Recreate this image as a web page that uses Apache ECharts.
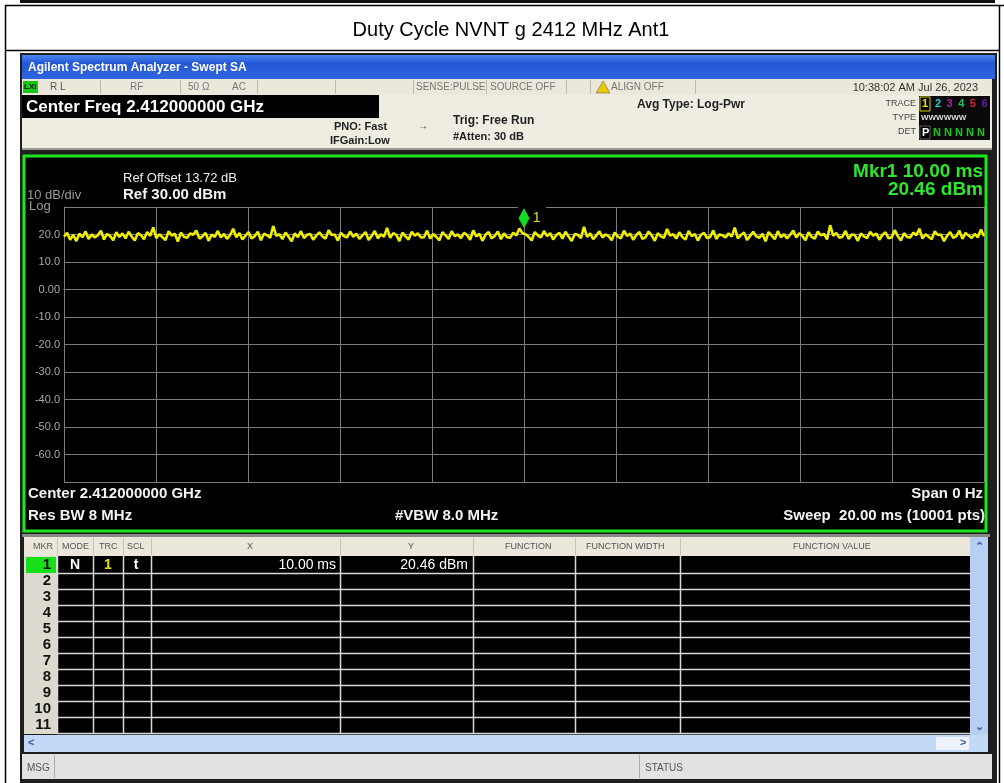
<!DOCTYPE html>
<html>
<head>
<meta charset="utf-8">
<script src="https://cdn.jsdelivr.net/npm/echarts@6/dist/echarts.min.js"></script>
<style>
  html, body { margin: 0; padding: 0; background: #fff; }
  #main { width: 1004px; height: 783px; }
</style>
</head>
<body>
<div id="main"></div>
<script>
// ---- data ----
const chartTitle = 'Duty Cycle NVNT g 2412 MHz Ant1';
const sweepMs = 20;                 // span 0 Hz, sweep 20.00 ms
const yTicks = [20, 10, 0, -10, -20, -30, -40, -50, -60];
const markerX = 10.00;              // ms
const markerY = 20.46;              // dBm
// trace level (dBm), sampled along the sweep
const traceDbm = [
    19.2, 20.6, 18.1, 19.9, 17.6, 20.3, 19.0, 21.1, 18.4, 20.0, 18.9, 19.7, 21.4, 18.2, 20.2, 19.4, 17.9, 20.8, 19.1, 20.4,
    18.6, 21.0, 19.3, 17.8, 20.5, 19.8, 18.3, 20.9, 19.5, 22.6, 18.7, 20.1, 19.0, 18.0, 21.2, 19.6, 20.3, 17.4, 20.7, 19.2,
    18.8, 20.4, 19.9, 21.5, 18.5, 19.3, 20.6, 17.7, 20.0, 19.1, 21.3, 18.9, 20.2, 18.4, 19.8, 22.1, 19.0, 20.5, 18.2, 19.6,
    20.9, 18.6, 19.4, 21.0, 17.9, 20.3, 19.7, 18.8, 23.1, 19.5, 20.1, 18.3, 20.7, 19.2, 17.5, 20.4, 19.0, 21.2, 18.7, 19.9,
    20.2, 18.1, 19.6, 20.8, 19.3, 18.5, 21.6, 19.8, 20.0, 17.8, 20.6, 19.4, 18.9, 21.1, 19.1, 20.3, 18.4, 19.7, 20.9, 18.0,
    19.5, 21.3, 18.6, 20.1, 19.2, 22.4, 18.8, 20.5, 19.9, 17.6, 20.7, 19.3, 18.2, 21.0, 19.6, 20.4, 18.9, 19.0, 21.4, 18.5,
    20.2, 19.1, 17.9, 20.8, 19.7, 18.4, 21.2, 19.4, 20.0, 18.7, 20.6, 19.8, 18.1, 21.5, 19.3, 20.3, 17.7, 19.9, 20.9, 18.6,
    19.5, 21.1, 18.3, 20.4, 19.0, 18.8, 20.7, 19.6, 22.2, 20.5, 20.1, 19.2, 17.8, 20.9, 19.7, 18.9, 21.3, 19.4, 20.5, 18.2,
    19.8, 20.6, 18.5, 21.0, 19.3, 17.6, 20.2, 19.9, 18.7, 22.8, 19.1, 20.4, 18.3, 19.6, 21.2, 18.9, 20.0, 19.4, 17.9, 20.7,
    19.2, 18.6, 21.4, 19.5, 20.3, 18.1, 19.8, 20.9, 18.4, 19.0, 21.1, 19.7, 17.7, 20.5, 19.3, 18.8, 22.0, 19.6, 20.1, 18.5,
    20.8, 19.0, 18.2, 21.3, 19.4, 20.2, 17.8, 19.9, 20.6, 18.7, 19.1, 21.5, 18.4, 20.0, 19.7, 18.9, 20.4, 19.2, 22.5, 18.6,
    19.8, 20.7, 18.0, 19.5, 21.0, 19.3, 18.8, 20.3, 17.5, 20.9, 19.6, 18.3, 21.2, 19.0, 20.1, 18.6, 19.9, 21.4, 18.9, 20.5,
    19.4, 17.9, 20.8, 19.1, 18.5, 21.1, 19.7, 20.2, 18.2, 23.4, 19.5, 20.6, 18.8, 19.2, 21.3, 18.4, 20.0, 19.8, 17.7, 20.4,
    19.3, 18.7, 21.0, 19.6, 20.3, 18.1, 19.9, 20.8, 18.6, 19.0, 21.6, 19.4, 17.8, 20.5, 19.1, 18.9, 20.7, 19.7, 22.1, 18.5,
    20.1, 19.2, 18.3, 21.2, 19.8, 20.0, 17.6, 19.5, 20.9, 18.8, 19.3, 21.4, 18.4, 20.6, 19.6, 18.7, 20.2, 19.0, 21.8, 19.4
];
// marker table contents
const mkrNumbers = ['1', '2', '3', '4', '5', '6', '7', '8', '9', '10', '11'];
const mkrRow1 = {mode: 'N', trc: '1', scl: 't', x: '10.00 ms', y: '20.46 dBm'};
const tableHeaders = ['MKR', 'MODE', 'TRC', 'SCL', 'X', 'Y', 'FUNCTION', 'FUNCTION WIDTH', 'FUNCTION VALUE'];

// ---- small helpers for the analyzer chrome ----
const SANS = '"Liberation Sans", Arial, sans-serif';
function rect(x, y, w, h, fill, z = 1, extra = {}) {
    return {type: 'rect', silent: true, z: z, shape: {x: x, y: y, width: w, height: h}, style: Object.assign({fill: fill}, extra)};
}
function line(x1, y1, x2, y2, stroke, w = 1, z = 2) {
    return {type: 'line', silent: true, z: z, shape: {x1: x1, y1: y1, x2: x2, y2: y2}, style: {stroke: stroke, lineWidth: w}};
}
function txt(x, y, text, font, fill, align = 'left', z = 10) {
    return {
        type: 'text', silent: true, z: z, x: x, y: y,
        style: {text: text, font: font, fill: fill, align: align, verticalAlign: 'middle',
                textAlign: align, textVerticalAlign: 'middle'}
    };
}

let g = [];
// page table frame and title
g.push(rect(20, 0, 975, 3, '#111'));
g.push(line(5, 5.5, 1004, 5.5, '#000', 1.5));
g.push(line(5.5, 5, 5.5, 783, '#000', 1.5));
g.push(line(999.5, 5, 999.5, 783, '#000', 1.5));
g.push(line(5, 50.5, 1000, 50.5, '#000', 1.5));
g.push(txt(511, 30, chartTitle, '20px ' + SANS, '#000', 'center'));

// screenshot frame
g.push(rect(20, 53, 977, 730, '#1e1e1e'));
g.push(rect(22, 55, 973, 24, '#2a5fd8', 1, {
    fill: new echarts.graphic.LinearGradient(0, 0, 0, 1, [
        {offset: 0, color: '#4a86ee'}, {offset: 0.35, color: '#2457d6'}, {offset: 1, color: '#2f66de'}])
}));
g.push(txt(28, 68, 'Agilent Spectrum Analyzer - Swept SA', 'bold 12px ' + SANS, '#fff'));

// status strip
g.push(rect(22, 79, 970, 16, '#ebe7da'));
[100, 180, 257, 335, 413, 486, 566, 590, 695].forEach(x => g.push(line(x + 0.5, 80, x + 0.5, 94, '#bdb8a8')));
g.push(rect(23, 81, 15, 12, '#18c818'));
g.push(txt(24, 87, 'LXI', 'bold 8px ' + SANS, '#111'));
g.push(txt(50, 87, 'R L', '10px ' + SANS, '#555'));
g.push(txt(130, 87, 'RF', '10px ' + SANS, '#777'));
g.push(txt(188, 87, '50 Ω', '10px ' + SANS, '#777'));
g.push(txt(232, 87, 'AC', '10px ' + SANS, '#777'));
g.push(txt(416, 87, 'SENSE:PULSE', '10px ' + SANS, '#777'));
g.push(txt(490, 87, 'SOURCE OFF', '10px ' + SANS, '#777'));
g.push({type: 'polygon', silent: true, z: 5, shape: {points: [[596, 93], [603, 81], [610, 93]]}, style: {fill: '#e8c800', stroke: '#555', lineWidth: 0.5}});
g.push(txt(611, 87, 'ALIGN OFF', '10px ' + SANS, '#777'));
g.push(txt(978, 88, '10:38:02 AM Jul 26, 2023', '11px ' + SANS, '#333', 'right'));

// header area
g.push(rect(22, 95, 970, 55, '#efece2'));
g.push(rect(22, 95, 357, 23, '#000'));
g.push(txt(26, 107, 'Center Freq 2.412000000 GHz', 'bold 17px ' + SANS, '#fff'));
g.push(txt(334, 127, 'PNO: Fast', 'bold 11px ' + SANS, '#222'));
g.push(txt(330, 141, 'IFGain:Low', 'bold 11px ' + SANS, '#222'));
g.push(txt(418, 126, '→', 'bold 10px ' + SANS, '#222'));
g.push(txt(453, 121, 'Trig: Free Run', 'bold 12px ' + SANS, '#222'));
g.push(txt(453, 137, '#Atten: 30 dB', 'bold 11px ' + SANS, '#222'));
g.push(txt(637, 105, 'Avg Type: Log-Pwr', 'bold 12px ' + SANS, '#222'));
g.push(txt(916, 104, 'TRACE', '9px ' + SANS, '#444', 'right'));
g.push(txt(916, 118, 'TYPE', '9px ' + SANS, '#444', 'right'));
g.push(txt(916, 132, 'DET', '9px ' + SANS, '#444', 'right'));
g.push(rect(919, 96, 71, 44, '#0a0a0a'));
g.push(rect(920, 97, 10, 14, '#000', 5, {stroke: '#d8d000', lineWidth: 1}));
g.push(txt(922, 104, '1', 'bold 11px ' + SANS, '#e8e000'));
[['2', '#20c8c8'], ['3', '#b020a0'], ['4', '#20c060'], ['5', '#e02040'], ['6', '#6020a0']].forEach((d, i) =>
    g.push(txt(935 + i * 11.6, 104, d[0], 'bold 11px ' + SANS, d[1])));
g.push(txt(921, 118, 'WWWWWW', 'bold 8px ' + SANS, '#ddd'));
g.push(rect(920, 126, 10, 13, '#fff', 5, {fill: '#000', stroke: '#aaa', lineWidth: 0.5}));
g.push(txt(922, 133, 'P', 'bold 11px ' + SANS, '#fff'));
g.push(txt(933, 133, 'N N N N N', 'bold 11px ' + SANS, '#18c818'));
g.push(rect(22, 148, 970, 2, '#9a9a90'));

// plot panel
g.push(rect(24, 156, 962, 375, '#000', 1, {stroke: '#1ee61e', lineWidth: 3}));
g.push(txt(123, 178, 'Ref Offset 13.72 dB', '13px ' + SANS, '#eee'));
g.push(txt(123, 195, 'Ref 30.00 dBm', 'bold 15px ' + SANS, '#f2f2f2'));
g.push(txt(27, 195, '10 dB/div', '13px ' + SANS, '#9a9a9a'));
g.push(txt(29, 206, 'Log', '13px ' + SANS, '#9a9a9a'));
g.push(txt(983, 172, 'Mkr1 10.00 ms', 'bold 19px ' + SANS, '#2ee62e', 'right'));
g.push(txt(983, 190, '20.46 dBm', 'bold 19px ' + SANS, '#2ee62e', 'right'));
g.push(txt(28, 494, 'Center 2.412000000 GHz', 'bold 15px ' + SANS, '#f2f2f2'));
g.push(txt(28, 516, 'Res BW 8 MHz', 'bold 15px ' + SANS, '#f2f2f2'));
g.push(txt(395, 516, '#VBW 8.0 MHz', 'bold 15px ' + SANS, '#f2f2f2'));
g.push(txt(983, 494, 'Span 0 Hz', 'bold 15px ' + SANS, '#f2f2f2', 'right'));
g.push(txt(985, 516, 'Sweep  20.00 ms (10001 pts)', 'bold 15px ' + SANS, '#f2f2f2', 'right'));
g.push(rect(518, 205, 28, 4, '#000', 4));   // top gridline gap under the marker

// marker table
g.push(rect(22, 534, 968, 3, '#888'));
g.push(rect(24, 537, 946, 19, '#ebe7da'));
const colX = [57, 93, 123, 151, 340, 473, 575, 680];
const headX = [33, 62, 99, 127, 247, 408, 505, 586, 793];
tableHeaders.forEach((h, i) => g.push(txt(headX[i], 547, h, '9px ' + SANS, '#555')));
colX.forEach(x => g.push(line(x + 0.5, 538, x + 0.5, 555, '#c8c3b2')));
g.push(rect(24, 556, 33, 178, '#dcd9cf'));
g.push(rect(57, 556, 913, 178, '#000'));
g.push(rect(26, 557, 30, 16, '#18e018'));
mkrNumbers.forEach((n, i) => {
    g.push(txt(51, 565 + i * 16, n, 'bold 15px ' + SANS, '#111', 'right'));
    g.push(line(57, 573 + i * 16 + 0.5, 970, 573 + i * 16 + 0.5, '#d8d8d8', 1.5, 3));
});
colX.forEach(x => g.push(line(x + 0.5, 556, x + 0.5, 734, '#d8d8d8', 1.5, 3)));
g.push(txt(75, 565, mkrRow1.mode, 'bold 14px ' + SANS, '#fff', 'center'));
g.push(txt(108, 565, mkrRow1.trc, 'bold 14px ' + SANS, '#e8e000', 'center'));
g.push(txt(136, 565, mkrRow1.scl, 'bold 14px ' + SANS, '#fff', 'center'));
g.push(txt(336, 565, mkrRow1.x, '14px ' + SANS, '#fff', 'right'));
g.push(txt(468, 565, mkrRow1.y, '14px ' + SANS, '#fff', 'right'));
// scroll bars
g.push(rect(970, 537, 18, 198, '#b8cff4'));
g.push(txt(979, 547, '⌃', 'bold 11px ' + SANS, '#3a5a9a', 'center'));
g.push(txt(979, 727, '⌄', 'bold 11px ' + SANS, '#3a5a9a', 'center'));
g.push(rect(24, 735, 964, 17, '#c4d8f8'));
g.push(txt(28, 743, '<', 'bold 11px ' + SANS, '#3a5a9a'));
g.push(rect(936, 737, 33, 13, '#eef3fb'));
g.push(txt(960, 743, '>', 'bold 11px ' + SANS, '#3a5a9a'));
// message bar
g.push(rect(22, 754, 970, 25, '#e2e2e2'));
g.push(line(54.5, 755, 54.5, 778, '#aaa'));
g.push(line(639.5, 755, 639.5, 778, '#aaa'));
g.push(txt(27, 768, 'MSG', '10px ' + SANS, '#555'));
g.push(txt(645, 768, 'STATUS', '10px ' + SANS, '#555'));

// ---- chart ----
const chart = echarts.init(document.getElementById('main'), null, {renderer: 'canvas'});
const traceData = traceDbm.map((v, i) => [i * sweepMs / (traceDbm.length - 1), v]);

const option = {
    animation: false,
    backgroundColor: '#fff',
    graphic: {elements: g},
    grid: {left: 64, top: 207, width: 920, height: 275, show: false},
    xAxis: {
        type: 'value', min: 0, max: sweepMs, interval: 2, z: 3,
        axisLine: {show: true, lineStyle: {color: '#7c7c7c', width: 1}},
        axisTick: {show: false},
        axisLabel: {show: false},
        splitLine: {show: true, lineStyle: {color: '#7c7c7c', width: 1}}
    },
    yAxis: {
        type: 'value', min: -70, max: 30, interval: 10, z: 3,
        axisLine: {show: true, lineStyle: {color: '#7c7c7c', width: 1}},
        axisTick: {show: false},
        axisLabel: {
            color: '#a8a8a8', fontSize: 11, fontFamily: 'Liberation Sans', margin: 4,
            formatter: function (v) {
                if (yTicks.indexOf(v) < 0) return '';
                return v === 0 ? '0.00' : v.toFixed(1);
            }
        },
        splitLine: {show: true, lineStyle: {color: '#7c7c7c', width: 1}}
    },
    series: [{
        type: 'line',
        z: 5,
        data: traceData,
        showSymbol: false,
        lineStyle: {color: '#eeee00', width: 2.6},
        markPoint: {
            symbol: 'diamond',
            symbolSize: [11, 20],
            symbolOffset: [0, -15],
            itemStyle: {color: '#12dc22'},
            label: {show: true, position: 'right', formatter: '1', color: '#d8d820', fontSize: 15, offset: [-2, 0]},
            data: [{coord: [markerX, markerY]}]
        }
    }]
};
chart.setOption(option);
</script>
</body>
</html>
